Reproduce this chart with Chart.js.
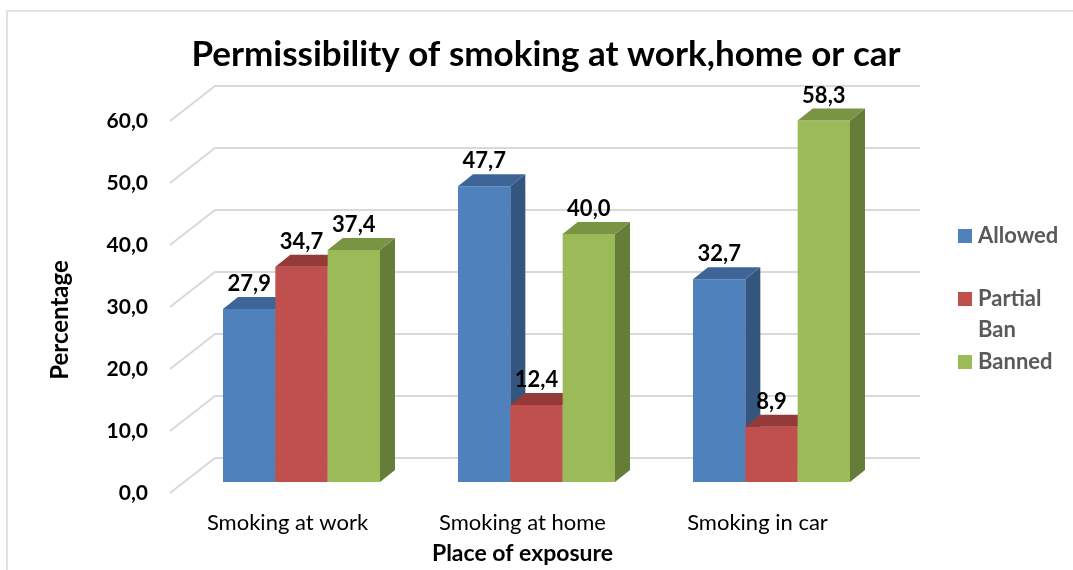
<!DOCTYPE html>
<html>
<head>
<meta charset="utf-8">
<title>Permissibility of smoking</title>
<script src="https://cdn.jsdelivr.net/npm/chart.js@4/dist/chart.umd.min.js"></script>
<style>
  html, body { margin: 0; padding: 0; background: #fff; }
  #wrap { width: 1073px; height: 570px; }
</style>
</head>
<body>
<div id="wrap"><canvas id="smokingChart" width="1073" height="570"></canvas></div>
<script>
// data
const categories = ['Smoking at work', 'Smoking at home', 'Smoking in car'];
const seriesNames = ['Allowed', 'Partial Ban', 'Banned'];
const allowed = [27.9, 47.7, 32.7];
const partialBan = [34.7, 12.4, 8.9];
const banned = [37.4, 40.0, 58.3];
const yTicks = [0, 10, 20, 30, 40, 50, 60];

// 3D look: offsets from the front plane (where the labels sit)
const BAR_DX = 14, BAR_DY = -11;     // front face of the bars
const DEPTH_DX = 15, DEPTH_DY = -12;  // depth of each bar
const WALL_DX = 45, WALL_DY = -35;    // back wall

const colors = {
  front: ['#4F81BD', '#C0504D', '#9BBB59'],
  top:   ['#3E6597', '#953A38', '#7A9446'],
  side:  ['#34557F', '#86332F', '#667C39']
};

Chart.defaults.font.family = "Lato, 'Open Sans', sans-serif";
Chart.defaults.color = '#000';

const fmt = v => v.toFixed(1).replace('.', ',');

function poly(ctx, pts, fill) {
  ctx.beginPath();
  ctx.moveTo(pts[0][0], pts[0][1]);
  for (let i = 1; i < pts.length; i++) ctx.lineTo(pts[i][0], pts[i][1]);
  ctx.closePath();
  ctx.fillStyle = fill;
  ctx.fill();
}

const bars3d = {
  id: 'bars3d',
  beforeDraw(chart) {
    const ctx = chart.ctx;
    ctx.save();
    ctx.fillStyle = '#fff';
    ctx.fillRect(0, 0, chart.width, chart.height);
    // outer chart border (only left and top are in frame)
    ctx.strokeStyle = '#d9d9d9';
    ctx.lineWidth = 1.5;
    ctx.strokeRect(7, 11, chart.width + 20, chart.height + 20);
    ctx.restore();
  },
  beforeDatasetsDraw(chart) {
    const { ctx, chartArea: a, scales: { y } } = chart;
    ctx.save();
    ctx.strokeStyle = '#d9d9d9';
    ctx.lineWidth = 2;
    yTicks.forEach(v => {
      const py = y.getPixelForValue(v);
      ctx.beginPath();
      ctx.moveTo(a.left, py);
      ctx.lineTo(a.left + WALL_DX, py + WALL_DY);
      ctx.lineTo(a.right + WALL_DX, py + WALL_DY);
      ctx.stroke();
    });
    ctx.restore();
  },
  // chart.js paints the last dataset first; we want Allowed first so
  // each bar's front covers the side of the one to its left
  beforeDatasetDraw() {
    return false;
  },
  afterDatasetsDraw(chart) {
    const ctx = chart.ctx;
    ctx.save();
    ctx.translate(BAR_DX, BAR_DY);
    chart.data.datasets.forEach((ds, di) => {
      chart.getDatasetMeta(di).data.forEach(bar => {
        const { x, y, base, width } = bar.getProps(['x', 'y', 'base', 'width'], true);
        const l = x - width / 2, r = x + width / 2;
        bar.draw(ctx);
        poly(ctx, [[r, y], [r + DEPTH_DX, y + DEPTH_DY], [r + DEPTH_DX, base + DEPTH_DY], [r, base]], colors.side[di]);
        poly(ctx, [[l, y], [r, y], [r + DEPTH_DX, y + DEPTH_DY], [l + DEPTH_DX, y + DEPTH_DY]], colors.top[di]);
      });
    });

    ctx.font = 'bold 22px Lato';
    ctx.fillStyle = '#000';
    ctx.textAlign = 'center';
    ctx.textBaseline = 'alphabetic';
    chart.data.datasets.forEach((ds, di) => {
      chart.getDatasetMeta(di).data.forEach((bar, k) => {
        const { x, y } = bar.getProps(['x', 'y'], true);
        ctx.fillText(fmt(ds.data[k]), x, y + DEPTH_DY - 6);
      });
    });
    ctx.restore();
  },
  afterDraw(chart) {
    const ctx = chart.ctx;
    ctx.save();
    // y axis title
    ctx.translate(60, 320);
    ctx.rotate(-Math.PI / 2);
    ctx.font = 'bold 24px Lato';
    ctx.fillStyle = '#000';
    ctx.textAlign = 'center';
    ctx.textBaseline = 'middle';
    ctx.fillText('Percentage', 0, 0);
    ctx.restore();

    // legend
    ctx.save();
    ctx.font = 'bold 22px Lato';
    ctx.textAlign = 'left';
    ctx.textBaseline = 'alphabetic';
    const legendLines = [['Allowed'], ['Partial', 'Ban'], ['Banned']];
    chart.data.datasets.forEach((ds, di) => {
      const top = 229 + di * 63;
      ctx.fillStyle = ds.backgroundColor;
      ctx.fillRect(958, top, 14, 14);
      ctx.fillStyle = '#595959';
      legendLines[di].forEach((t, j) => ctx.fillText(t, 978, top + 14 + j * 31));
    });
    ctx.restore();
  }
};

const seriesData = [allowed, partialBan, banned];

new Chart(document.getElementById('smokingChart'), {
  type: 'bar',
  data: {
    labels: categories,
    datasets: seriesNames.map((name, i) => ({
      label: name,
      data: seriesData[i],
      backgroundColor: colors.front[i],
      borderWidth: 0,
      clip: false,
      categoryPercentage: 0.668,
      barPercentage: 1
    }))
  },
  options: {
    responsive: false,
    animation: false,
    devicePixelRatio: 1,
    layout: { padding: { left: 20, right: 1, top: 0, bottom: 0 } },
    plugins: {
      legend: { display: false },
      tooltip: { enabled: false },
      title: {
        display: true,
        text: 'Permissibility of smoking at work,home or car',
        font: { size: 35, weight: 'bold' },
        color: '#000',
        padding: { top: 34, bottom: 45 }
      }
    },
    scales: {
      x: {
        grid: { display: false, drawTicks: false },
        border: { display: false },
        ticks: { font: { size: 22 }, color: '#000', padding: 17 },
        title: {
          display: true,
          text: 'Place of exposure',
          font: { size: 23, weight: 'bold' },
          color: '#000',
          padding: { top: 0, bottom: 3 }
        },
        afterFit(s) { s.height = 77; }
      },
      y: {
        min: 0,
        max: 60,
        grid: { display: false, drawTicks: false },
        border: { display: false },
        ticks: {
          stepSize: 10,
          font: { size: 21, weight: 'bold' },
          color: '#000',
          padding: 22,
          callback: v => fmt(v)
        },
        afterFit(s) { s.width = 150; }
      },
      legendSpace: {
        type: 'linear',
        position: 'right',
        grid: { display: false, drawTicks: false },
        border: { display: false },
        ticks: { display: false },
        afterFit(s) { s.width = 197; }
      }
    }
  },
  plugins: [bars3d]
});
</script>
</body>
</html>
